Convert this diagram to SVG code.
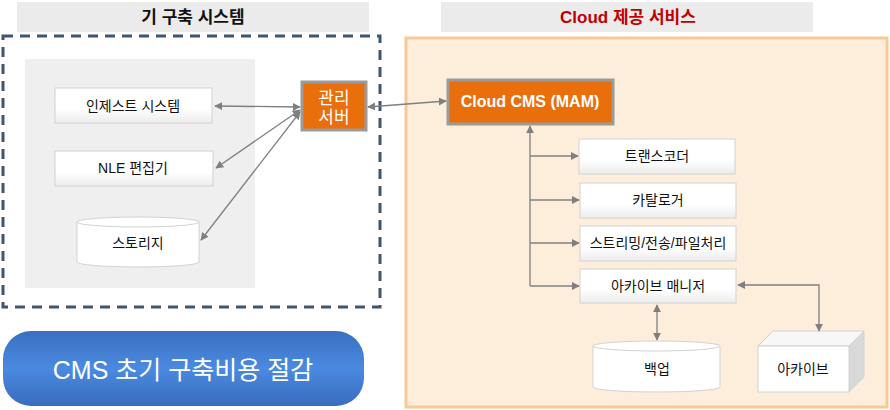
<svg xmlns="http://www.w3.org/2000/svg" width="890" height="410" viewBox="0 0 890 410">
<defs>
<style>
text{font-family:"Liberation Sans","Noto Sans CJK KR",sans-serif;text-anchor:middle;dominant-baseline:central}
.hdr{fill:#ebebeb}
.box{fill:url(#gbox);stroke:#d2d2d2;stroke-width:1}
.t{font-size:14px;fill:#111}
.orn{fill:#e96f0c;stroke:#9a9a9a;stroke-width:3}
.con{fill:none;stroke:#7f7f7f;stroke-width:1.3}
</style>
<linearGradient id="gbox" x1="0" y1="0" x2="0" y2="1"><stop offset="0" stop-color="#ffffff"/><stop offset="0.6" stop-color="#ffffff"/><stop offset="1" stop-color="#ececec"/></linearGradient>
<linearGradient id="gbtn" x1="0" y1="0" x2="0" y2="1"><stop offset="0" stop-color="#3b6fc0"/><stop offset="0.5" stop-color="#4a8ae0"/><stop offset="1" stop-color="#3a6cbc"/></linearGradient>
<marker id="ah" viewBox="0 0 10 10" refX="9" refY="5" markerWidth="8" markerHeight="8" markerUnits="userSpaceOnUse" orient="auto-start-reverse"><path d="M0,0 L10,5 L0,10 z" fill="#7f7f7f"/></marker>
</defs>
<rect width="890" height="410" fill="#ffffff"/>

<g id="hdr-left"><rect class="hdr" x="17" y="2" width="352" height="30"/><text x="193" y="17" font-size="17" font-weight="bold" fill="#111">기 구축 시스템</text></g>
<g id="hdr-right"><rect class="hdr" x="441" y="2" width="372" height="30"/><text x="628" y="17" font-size="17" font-weight="bold" fill="#c00000">Cloud 제공 서비스</text></g>

<g id="legacy-frame"><rect x="3" y="36" width="377" height="271" fill="#ffffff" stroke="#3e5573" stroke-width="3" stroke-dasharray="10,7"/></g>
<g id="legacy-panel"><rect x="25" y="59" width="230" height="229" fill="#efefef"/></g>

<g id="cloud-frame"><rect x="406" y="38" width="481" height="369" fill="#fdeedb" stroke="#f8c895" stroke-width="3"/></g>

<g id="ingest"><rect class="box" x="55" y="88" width="157" height="35"/><text class="t" x="133" y="106">인제스트 시스템</text></g>
<g id="nle"><rect class="box" x="55" y="151" width="158" height="35"/><text class="t" x="133" y="168">NLE 편집기</text></g>
<g id="storage"><path d="M77,222 L77,262 A61,5 0 0 0 199,262 L199,222" fill="#fff" stroke="#d2d2d2"/><ellipse cx="138" cy="222" rx="61" ry="5" fill="#fff" stroke="#d2d2d2"/><text class="t" x="138" y="243">스토리지</text></g>

<g id="mgmt"><rect class="orn" x="302" y="82" width="64" height="48"/><text x="334" y="98" font-size="17" fill="#fff">관리</text><text x="334" y="117" font-size="17" fill="#fff">서버</text></g>

<g id="cms"><rect class="orn" x="448" y="80" width="165" height="44"/><text x="530" y="101" font-size="16" font-weight="bold" fill="#fff">Cloud CMS (MAM)</text></g>

<g id="transcoder"><rect class="box" x="579" y="139" width="156" height="35"/><text class="t" x="657" y="156">트랜스코더</text></g>
<g id="cataloger"><rect class="box" x="580" y="183" width="156" height="35"/><text class="t" x="658" y="200">카탈로거</text></g>
<g id="streaming"><rect class="box" x="580" y="226" width="156" height="35"/><text class="t" x="658" y="243">스트리밍/전송/파일처리</text></g>
<g id="archive-mgr"><rect class="box" x="580" y="269" width="156" height="34"/><text class="t" x="658" y="286">아카이브 매니저</text></g>

<g id="backup"><path d="M593,346 L593,387 A63.5,5 0 0 0 720,387 L720,346" fill="#fff" stroke="#d2d2d2"/><ellipse cx="656.5" cy="346" rx="63.5" ry="5" fill="#fff" stroke="#d2d2d2"/><text class="t" x="657" y="369">백업</text></g>

<g id="archive"><path d="M758,346 L773,331 L864,331 L849,346 z" fill="#f7f7f7" stroke="#d2d2d2"/><path d="M849,346 L864,331 L864,377 L849,392 z" fill="#d9d9d9" stroke="#d2d2d2"/><rect x="758" y="346" width="91" height="46" fill="#fff" stroke="#d2d2d2"/><text class="t" x="803" y="369">아카이브</text></g>

<g id="savings"><rect x="3" y="331" width="361" height="75" rx="28" fill="url(#gbtn)"/><text x="183" y="370" font-size="25" fill="#fff">CMS 초기 구축비용 절감</text></g>

<g id="connectors">
<line class="con" x1="300" y1="107" x2="215" y2="106" marker-start="url(#ah)" marker-end="url(#ah)"/>
<line class="con" x1="300" y1="110" x2="216" y2="168" marker-start="url(#ah)" marker-end="url(#ah)"/>
<line class="con" x1="300" y1="112" x2="201" y2="240" marker-start="url(#ah)" marker-end="url(#ah)"/>
<line class="con" x1="368" y1="107" x2="446" y2="101" marker-start="url(#ah)" marker-end="url(#ah)"/>
<path class="con" d="M530,286 L530,126" marker-end="url(#ah)"/>
<line class="con" x1="530" y1="156" x2="578" y2="156" marker-end="url(#ah)"/>
<line class="con" x1="530" y1="200" x2="579" y2="200" marker-end="url(#ah)"/>
<line class="con" x1="530" y1="243" x2="579" y2="243" marker-end="url(#ah)"/>
<line class="con" x1="530" y1="286" x2="579" y2="286" marker-end="url(#ah)"/>
<path class="con" d="M738,285 L819,285 L819,331" marker-start="url(#ah)" marker-end="url(#ah)"/>
<line class="con" x1="657" y1="305" x2="657" y2="340" marker-start="url(#ah)" marker-end="url(#ah)"/>
</g>
</svg>
